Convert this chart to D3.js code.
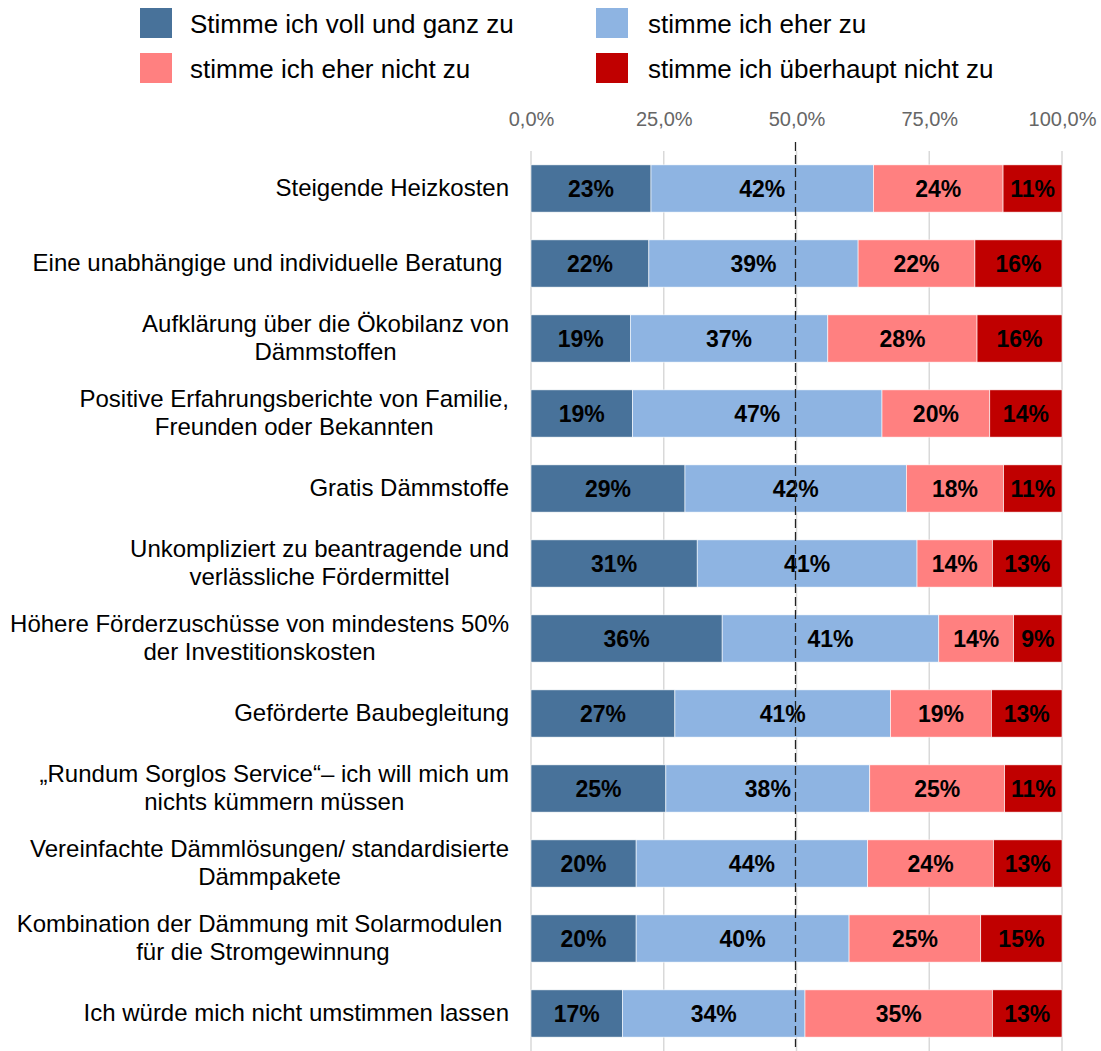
<!DOCTYPE html>
<html>
<head>
<meta charset="utf-8">
<script src="https://cdn.jsdelivr.net/npm/d3@7"></script>
<style>
  html, body { margin: 0; padding: 0; background: #fff; }
  svg text { font-family: "Liberation Sans", Arial, sans-serif; white-space: pre; }
</style>
</head>
<body>
<svg id="chart"></svg>
<script>
// Kategorien (Zeilenumbrüche mit \n)
var categories = [
  "Steigende Heizkosten",
  "Eine unabhängige und individuelle Beratung ",
  "Aufklärung über die Ökobilanz von\nDämmstoffen",
  "Positive Erfahrungsberichte von Familie,\nFreunden oder Bekannten",
  "Gratis Dämmstoffe",
  "Unkompliziert zu beantragende und\nverlässliche Fördermittel",
  "Höhere Förderzuschüsse von mindestens 50%\nder Investitionskosten",
  "Geförderte Baubegleitung",
  "„Rundum Sorglos Service“– ich will mich um\nnichts kümmern müssen",
  "Vereinfachte Dämmlösungen/ standardisierte\nDämmpakete",
  "Kombination der Dämmung mit Solarmodulen \nfür die Stromgewinnung",
  "Ich würde mich nicht umstimmen lassen"
];

var seriesNames = ["Stimme ich voll und ganz zu", "stimme ich eher zu", "stimme ich eher nicht zu", "stimme ich überhaupt nicht zu"];
var seriesColors = ["#48729a", "#8eb4e2", "#ff8080", "#c00000"];

// Werte in Prozent
var vollUndGanz     = [22.6, 22.2, 18.7, 19.1, 29.0, 31.3, 36.0, 27.1, 25.4, 19.8, 19.8, 17.2];
var eherZu          = [41.9, 39.4, 37.2, 47.0, 41.7, 41.4, 40.8, 40.6, 38.4, 43.6, 40.1, 34.4];
var eherNicht       = [24.4, 22.0, 28.1, 20.3, 18.3, 14.2, 14.1, 19.0, 25.4, 23.7, 24.8, 35.3];
var ueberhauptNicht = [11.1, 16.4, 16.0, 13.6, 11.0, 13.1,  9.1, 13.3, 10.8, 12.9, 15.3, 13.1];

var tickValues = [0, 25, 50, 75, 100];

(function() {
  var width = 1101, height = 1051;
  var plotLeft = 531, plotRight = 1062, plotTop = 151, plotBottom = 1051;

  var svg = d3.select("#chart").attr("width", width).attr("height", height);

  var rows = categories.map(function(c, i) {
    return { cat: c, s0: vollUndGanz[i], s1: eherZu[i], s2: eherNicht[i], s3: ueberhauptNicht[i] };
  });
  var keys = ["s0", "s1", "s2", "s3"];

  var x = d3.scaleLinear().domain([0, 100]).range([plotLeft, plotRight]);
  var y = d3.scaleBand().domain(categories).range([plotTop, plotBottom]).paddingInner(0.37).paddingOuter(0.185);

  var de = d3.formatLocale({ decimal: ",", thousands: ".", grouping: [3], currency: ["", " €"] });
  var fmtTick = de.format(".1f");

  // Gitterlinien
  svg.append("g").selectAll("line").data(tickValues).enter().append("line")
    .attr("x1", function(d) { return x(d); }).attr("x2", function(d) { return x(d); })
    .attr("y1", plotTop).attr("y2", plotBottom)
    .attr("stroke", "#d9d9d9").attr("stroke-width", 1.5);

  // Achsenbeschriftung oben
  var xAxis = d3.axisTop(x).tickValues(tickValues).tickSize(0).tickPadding(0)
    .tickFormat(function(d) { return fmtTick(d) + "%"; });
  var ax = svg.append("g").attr("transform", "translate(0,126)").call(xAxis);
  ax.select(".domain").remove();
  ax.selectAll("text").attr("font-size", 20).attr("fill", "#666").attr("dy", 0)
    .style("font-family", "'Liberation Sans', Arial, sans-serif");

  // Gestapelte Balken
  var stack = d3.stack().keys(keys);
  var layers = stack(rows);

  var g = svg.append("g");
  layers.forEach(function(layer, k) {
    g.append("g").selectAll("rect").data(layer).enter().append("rect")
      .attr("x", function(d) { return x(d[0]); })
      .attr("width", function(d) { return x(d[1]) - x(d[0]); })
      .attr("y", function(d) { return y(d.data.cat); })
      .attr("height", y.bandwidth())
      .attr("fill", seriesColors[k])
      .attr("stroke", "#fff").attr("stroke-width", 0.6);
  });

  // 50%-Linie
  svg.append("line")
    .attr("x1", x(50) - 1).attr("x2", x(50) - 1)
    .attr("y1", 142).attr("y2", 1047)
    .attr("stroke", "#222").attr("stroke-width", 1.3)
    .attr("stroke-dasharray", "9,4");

  // Wertbeschriftungen
  layers.forEach(function(layer, k) {
    g.append("g").selectAll("text").data(layer).enter().append("text")
      .attr("x", function(d) { return (x(d[0]) + x(d[1])) / 2; })
      .attr("y", function(d) { return y(d.data.cat) + y.bandwidth() / 2 + 8; })
      .attr("text-anchor", "middle")
      .attr("font-size", 23).attr("font-weight", "bold").attr("fill", "#000")
      .text(function(d) { return Math.round(d[1] - d[0]) + "%"; });
  });

  // Kategorienbeschriftung (rechtsbündiger Block, Zeilen zentriert)
  var labelRight = 509, lineH = 28;
  categories.forEach(function(c) {
    var lines = c.split("\n");
    var cy = y(c) + y.bandwidth() / 2;
    var t = svg.append("text").attr("font-size", 24).attr("fill", "#000").attr("text-anchor", "middle");
    var spans = lines.map(function(l, i) {
      return t.append("tspan").attr("y", cy + 7 + (i - (lines.length - 1) / 2) * lineH).text(l);
    });
    var maxW = d3.max(spans, function(s) { return s.node().getComputedTextLength(); });
    spans.forEach(function(s) { s.attr("x", labelRight - maxW / 2); });
  });

  // Legende
  var legendPos = [[140, 8], [596, 8], [140, 53], [596, 53]];
  seriesNames.forEach(function(name, i) {
    var p = legendPos[i];
    svg.append("rect").attr("x", p[0]).attr("y", p[1]).attr("width", 32).attr("height", 30)
      .attr("fill", seriesColors[i]);
    svg.append("text").attr("x", p[0] + 50 + (i % 2 ? 2 : 0)).attr("y", p[1] + 25)
      .attr("font-size", 26).attr("fill", "#000").text(name);
  });
})();
</script>
</body>
</html>
